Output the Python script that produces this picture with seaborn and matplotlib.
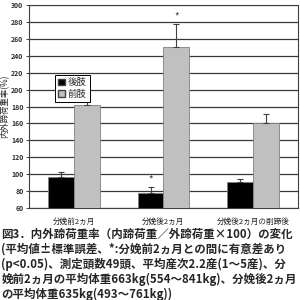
import matplotlib
matplotlib.use("Agg")
import matplotlib.pyplot as plt
import seaborn as sns
import pandas as pd
import numpy as np
from matplotlib.patches import Patch

categories = ["分娩前2ヵ月", "分娩後2ヵ月", "分娩後2ヵ月の削蹄後"]
series = ["後肢", "前肢"]
rear_values = [97, 78, 91]
front_values = [182, 250, 161]
rear_err = [5, 7, 3.5]
front_err = [5, 28, 10]
rear_sig = ["", "*", ""]
front_sig = ["", "*", ""]
yticks = [60, 80, 100, 120, 140, 160, 180, 200, 220, 240, 260, 280, 300]
ylabel = "内外蹄荷重率(%)"
caption = ("図3．内外蹄荷重率（内蹄荷重／外蹄荷重×100）の変化\n"
           "(平均値±標準誤差、*:分娩前2ヵ月との間に有意差あり\n"
           "(p<0.05)、測定頭数49頭、平均産次2.2産(1～5産)、分\n"
           "娩前2ヵ月の平均体重663kg(554～841kg)、分娩後2ヵ月\n"
           "の平均体重635kg(493～761kg))")

sns.set_theme(style="white")
plt.rcParams['font.family'] = ['Noto Sans CJK JP', 'DejaVu Sans']

df = pd.DataFrame({
    "cat": categories * 2,
    "series": [series[0]] * 3 + [series[1]] * 3,
    "value": rear_values + front_values,
})

fig = plt.figure(figsize=(3, 3), dpi=100)
ax = fig.add_axes([0.097, 0.307, 0.896, 0.676])
colors = ["#000000", "#c0c0c0"]
sns.barplot(data=df, x="cat", y="value", hue="series", palette=colors,
            width=0.58, gap=0, errorbar=None, ax=ax, legend=False,
            edgecolor="#808080", linewidth=0.6, zorder=3)

bar_containers = list(ax.containers)
errs = [rear_err, front_err]
vals = [rear_values, front_values]
sigs = [rear_sig, front_sig]
for ci, cont in enumerate(bar_containers):
    for bi, bar in enumerate(cont.patches):
        xc = bar.get_x() + bar.get_width() / 2
        v = vals[ci][bi]
        e = errs[ci][bi]
        ax.errorbar([xc], [v], yerr=[[0], [e]], fmt="none", ecolor="#404040",
                    elinewidth=0.8, capsize=2.5, capthick=0.8, zorder=4)
        if sigs[ci][bi]:
            ax.text(xc, v + e + 3, sigs[ci][bi], ha="center", va="bottom",
                    fontsize=7, color="#404040")

ax.set_ylim(60, 300)
ax.set_yticks(yticks)
ax.set_yticklabels([str(t) for t in yticks], fontsize=5, color="#303030",
                   fontweight="bold")
ax.yaxis.grid(True, color="#383838", linewidth=0.9, zorder=0)
ax.set_axisbelow(True)
ax.set_xticks(range(len(categories)))
ax.set_xticklabels(categories, fontsize=5.5, color="#202020")
ax.tick_params(axis="x", length=0, pad=7)
ax.tick_params(axis="y", length=2, width=0.6, pad=2, left=True)
ax.set_xlabel("")
ax.set_ylabel(ylabel, fontsize=6)
ax.yaxis.set_label_coords(-0.072, 0.5)
for s in ax.spines.values():
    s.set_color("#404040")
    s.set_linewidth(0.8)
ax.set_xlim(-0.5, len(categories) - 0.5)

handles = [Patch(facecolor=colors[0], edgecolor="#404040"),
           Patch(facecolor=colors[1], edgecolor="#404040")]
leg = ax.legend(handles, series, loc="upper left",
                bbox_to_anchor=(0.095, 0.655), fontsize=6.8, frameon=True,
                fancybox=False, edgecolor="#000000", handlelength=0.7,
                handleheight=0.7, handletextpad=0.35, borderpad=0.35,
                labelspacing=0.25, framealpha=1, borderaxespad=0)
leg.get_frame().set_linewidth(0.7)
leg.set_zorder(5)

fig.text(0.005, 0.24, caption, ha="left", va="top", fontsize=8.25,
         fontweight="bold", linespacing=1.18)

fig.savefig("out.png", dpi=100)
